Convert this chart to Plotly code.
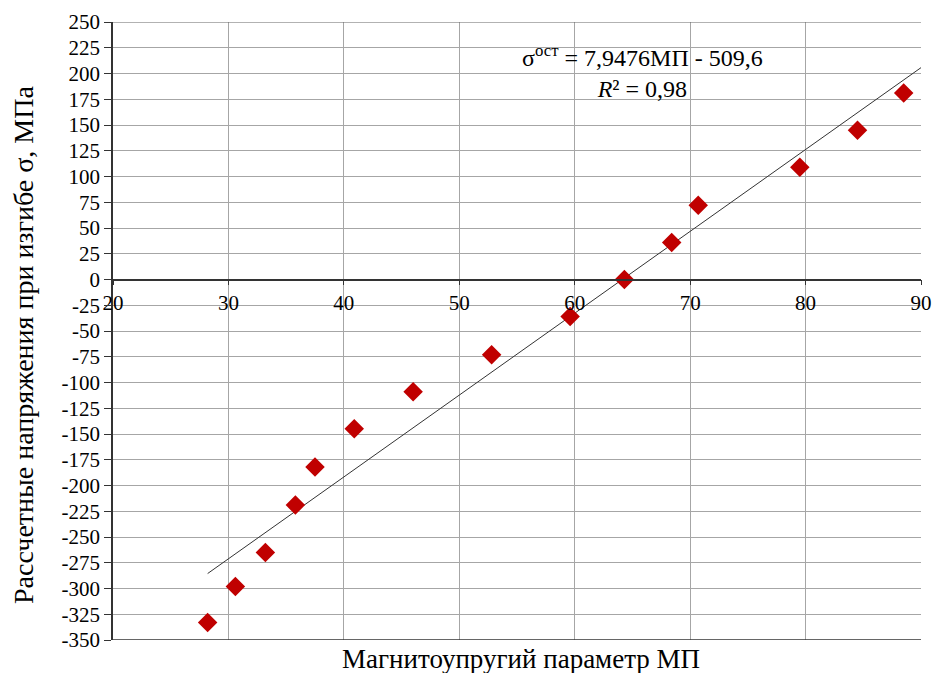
import plotly.graph_objects as go

# data
mp = [28.2, 30.6, 33.2, 35.8, 37.5, 40.9, 46.0, 52.8, 59.6, 64.3, 68.4, 70.7, 79.5, 84.5, 88.5]
sigma = [-333, -298, -265, -219, -182, -145, -109, -73, -36, 0, 36, 72, 109, 145, 181]
slope = 7.9476
intercept = -509.6
trend_x = [28.2, 90]
trend_y = [slope * v + intercept for v in trend_x]

x_ticks = [20, 30, 40, 50, 60, 70, 80, 90]
y_ticks = list(range(-350, 251, 25))
y_ticktext = [str(v) for v in y_ticks]

font_family = "Times New Roman, Liberation Serif, DejaVu Serif, serif"

fig = go.Figure()
fig.add_trace(go.Scatter(x=trend_x, y=trend_y, mode="lines",
                         line=dict(color="#333333", width=1), hoverinfo="skip",
                         showlegend=False))
fig.add_trace(go.Scatter(x=mp, y=sigma, mode="markers",
                         marker=dict(symbol="diamond", size=15, color="#c00000",
                                     line=dict(width=0)),
                         showlegend=False))

ymin, ymax = -350, 250
fig.update_layout(
    width=935, height=673,
    margin=dict(l=113, r=14, t=22, b=33, autoexpand=False),
    paper_bgcolor="white", plot_bgcolor="white",
    font=dict(family=font_family, size=21, color="black"),
    xaxis=dict(range=[20, 90], tickvals=x_ticks, showgrid=True, gridcolor="#a6a6a6",
               gridwidth=1, zeroline=False, showline=True, linecolor="#333333",
               linewidth=1.5, ticks="outside", ticklen=5, tickcolor="#333333",
               anchor="free", position=(0 - ymin) / (ymax - ymin), automargin=False,
               tickfont=dict(family=font_family, size=21)),
    yaxis=dict(range=[ymin, ymax], tickvals=y_ticks, ticktext=y_ticktext,
               showgrid=True, gridcolor="#a6a6a6", gridwidth=1, zeroline=False,
               showline=True, linecolor="#333333", linewidth=1.5,
               ticks="outside", ticklen=7, tickcolor="#333333", automargin=False,
               tickfont=dict(family=font_family, size=21)),
)

# bottom border of plot area
fig.add_shape(type="line", xref="x", yref="y", x0=20, x1=90, y0=ymin, y1=ymin,
              line=dict(color="#333333", width=1.5))
# top border
fig.add_shape(type="line", xref="x", yref="y", x0=20, x1=90, y0=ymax, y1=ymax,
              line=dict(color="#666666", width=1))

# axis titles
fig.add_annotation(text="Рассчетные напряжения при изгибе σ, МПа", xref="paper",
                   yref="paper", x=0, y=0.5, xshift=-90, yshift=-14, textangle=-90,
                   xanchor="center", yanchor="middle",
                   showarrow=False, font=dict(family=font_family, size=28))
fig.add_annotation(text="Магнитоупругий параметр МП", xref="paper", yref="paper",
                   x=0.5, y=0, xshift=4, yshift=-2, yanchor="top", showarrow=False,
                   font=dict(family=font_family, size=27))

fig.add_annotation(text="σ<sup>ост</sup> = 7,9476МП - 509,6<br><i>R</i>² = 0,98",
                   xref="x", yref="y", x=65.9, y=202, showarrow=False,
                   align="center", font=dict(family=font_family, size=24))

fig.write_html("out.html", config={"displayModeBar": False},
               post_script="document.body.style.margin='0';")
